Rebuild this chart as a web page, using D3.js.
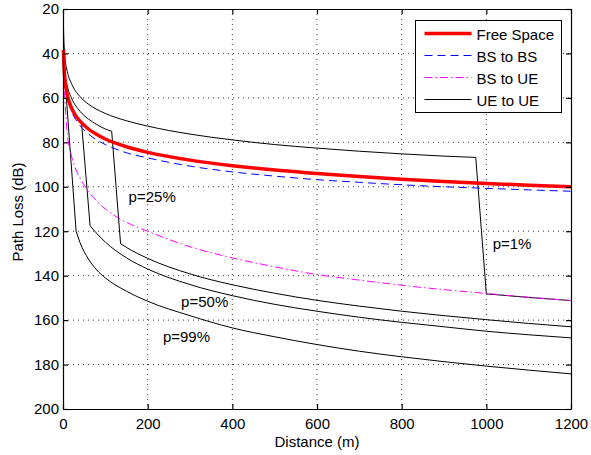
<!DOCTYPE html>

<head>
    <meta charset="utf-8">
    <title>Path loss vs distance</title>
    <style>
        body { margin: 0; background: #fff; }
        svg text { font-family: "Liberation Sans", Arial, Helvetica, sans-serif; fill: #000; }
    </style>
</head>

<body>

    <svg width="591" height="455"></svg>

    <script src="https://d3js.org/d3.v7.min.js"></script>

    <script>

        var distances = [1, 2, 5, 10, 20, 30, 40, 60, 80, 100, 150, 200, 300, 400, 500, 600, 700, 800, 900, 1000, 1100, 1200];
        var freeSpace = [38.5, 44.5, 52.5, 58.5, 64.5, 68, 70.5, 74, 76.5, 78.5, 82, 84.5, 88, 90.5, 92.5, 94, 95.4, 96.6, 97.6, 98.5, 99.3, 100];
        var bsToBs = [38.5, 44.5, 53, 59.5, 66, 69.7, 72.4, 76.2, 79, 81, 84.7, 87, 90.7, 93.3, 95.2, 96.8, 98, 99.1, 100, 100.7, 101.4, 102];
        var bsToUe = [43, 52, 62, 76, 86, 92, 96, 102, 106.5, 110, 116, 120, 127, 132, 136, 139.5, 142, 144.3, 146.3, 148, 149.7, 151.2];

        // UE to UE, one curve per percentile: [distance, loss] before and after the drop
        var ueP1Upper = [[1, 27], [2, 34], [5, 42.5], [10, 48], [20, 53.5], [40, 59.4], [60, 62.8], [100, 67], [150, 70.3], [200, 72.7],
            [300, 76.3], [400, 78.9], [500, 81], [600, 82.6], [700, 84], [800, 85.2], [900, 86.2], [975, 86.8]];
        var ueP1Lower = [[1000, 148.2], [1100, 149.8], [1200, 151.2]];

        var ueP25Upper = [[1, 33], [2, 40], [5, 49], [10, 54.5], [20, 60], [40, 66], [60, 69.5], [80, 72], [100, 74], [115, 75]];
        var ueP25Lower = [[136, 125.6], [150, 127.3], [200, 132.2], [300, 139.2], [400, 144.1], [500, 147.9], [600, 151.1], [700, 153.7],
            [800, 156], [900, 158], [1000, 159.8], [1100, 161.5], [1200, 163]];

        var ueP50Upper = [[1, 38.5], [5, 52.5], [10, 58.5], [20, 64.5], [30, 68], [44, 71.8]];
        var ueP50Lower = [[64, 117.5], [87.5, 122.6], [100, 124.9], [150, 132], [200, 137], [300, 144], [400, 149], [500, 152.9],
            [600, 156], [700, 158.7], [800, 161], [900, 163], [1000, 165], [1100, 166.6], [1200, 168]];

        var ueP99Upper = [[1, 42]];
        var ueP99Lower = [[31, 120], [40, 125], [60, 132.5], [80, 137.5], [100, 141], [150, 147], [200, 151.5], [300, 158], [400, 163.5],
            [500, 167.5], [600, 171], [700, 174], [800, 176.5], [900, 178.7], [1000, 180.7], [1100, 182.5], [1200, 184.2]];

        var xTicks = [0, 200, 400, 600, 800, 1000, 1200];
        var yTicks = [20, 40, 60, 80, 100, 120, 140, 160, 180, 200];

        var notes = [
            { text: "p=25%", d: 155, v: 106.7 },
            { text: "p=1%", d: 1015, v: 128 },
            { text: "p=50%", d: 279, v: 154 },
            { text: "p=99%", d: 236, v: 170 }
        ];

        var legendItems = ["Free Space", "BS to BS", "BS to UE", "UE to UE"];

        var svg = d3.select("svg"),
            margin = { top: 9, right: 20, bottom: 46, left: 63 },
            width = +svg.attr("width") - margin.left - margin.right,
            height = +svg.attr("height") - margin.top - margin.bottom;

        var x = d3.scaleLinear().domain([0, 1200]).range([0, width]),
            y = d3.scaleLinear().domain([20, 200]).range([0, height]);

        var g = svg.append("g")
            .attr("transform", "translate(" + margin.left + "," + margin.top + ")");

        // dotted grid
        g.selectAll(".gx")
            .data(xTicks.slice(1, -1))
            .enter().append("line")
            .attr("x1", function (d) { return x(d); })
            .attr("x2", function (d) { return x(d); })
            .attr("y1", 0)
            .attr("y2", height)
            .style("stroke", "#000")
            .style("stroke-width", 0.8)
            .style("stroke-dasharray", "1,4");

        g.selectAll(".gy")
            .data(yTicks.slice(1, -1))
            .enter().append("line")
            .attr("x1", 0)
            .attr("x2", width)
            .attr("y1", function (d) { return y(d); })
            .attr("y2", function (d) { return y(d); })
            .style("stroke", "#000")
            .style("stroke-width", 0.8)
            .style("stroke-dasharray", "1,4");

        var smooth = d3.line()
            .x(function (p) { return x(p[0]); })
            .y(function (p) { return y(p[1]); })
            .curve(d3.curveMonotoneX);

        var straight = d3.line()
            .x(function (p) { return x(p[0]); })
            .y(function (p) { return y(p[1]); });

        function pairs(values) {
            return distances.map(function (d, i) { return [d, values[i]]; });
        }

        // UE to UE curves: smooth parts joined by a straight drop
        var ueCurves = [
            [ueP1Upper, ueP1Lower],
            [ueP25Upper, ueP25Lower],
            [ueP50Upper, ueP50Lower],
            [ueP99Upper, ueP99Lower]
        ];

        ueCurves.forEach(function (c) {
            var up = c[0], low = c[1];
            var parts = [];
            if (up.length > 1) parts.push(smooth(up));
            parts.push(straight([up[up.length - 1], low[0]]));
            parts.push(smooth(low));
            parts.forEach(function (p) {
                g.append("path")
                    .attr("d", p)
                    .style("fill", "none")
                    .style("stroke", "#000")
                    .style("stroke-width", 1);
            });
        });

        var series = [
            { values: bsToUe, color: "#ff00ff", width: 1, dash: "8,3,1.5,3" },
            { values: bsToBs, color: "#0000ff", width: 1, dash: "8,5" },
            { values: freeSpace, color: "#ff0000", width: 3.5, dash: null }
        ];

        series.forEach(function (s) {
            g.append("path")
                .attr("d", smooth(pairs(s.values)))
                .style("fill", "none")
                .style("stroke", s.color)
                .style("stroke-width", s.width)
                .style("stroke-dasharray", s.dash);
        });

        // annotations
        g.selectAll(".note")
            .data(notes)
            .enter().append("text")
            .attr("x", function (d) { return x(d.d); })
            .attr("y", function (d) { return y(d.v); })
            .style("font-size", "15px")
            .text(function (d) { return d.text; });

        // axes with inward ticks on all four sides
        g.append("g")
            .attr("transform", "translate(0," + height + ")")
            .call(d3.axisBottom(x).tickValues(xTicks).tickSize(-5).tickSizeOuter(0).tickPadding(9).tickFormat(d3.format("d")));

        g.append("g")
            .call(d3.axisLeft(y).tickValues(yTicks).tickSize(-5).tickSizeOuter(0).tickPadding(4).tickFormat(d3.format("d")));

        g.append("g")
            .call(d3.axisTop(x).tickValues(xTicks).tickSize(-5).tickSizeOuter(0).tickFormat(""));

        g.append("g")
            .attr("transform", "translate(" + width + ",0)")
            .call(d3.axisRight(y).tickValues(yTicks).tickSize(-5).tickSizeOuter(0).tickFormat(""));

        g.selectAll(".domain, .tick line")
            .style("stroke", "#000")
            .style("stroke-width", 1.2);

        g.selectAll(".tick text")
            .style("font-size", "15px")
            .style("font-family", "'Liberation Sans', Arial, Helvetica, sans-serif")
            .style("fill", "#000");

        // axis titles
        svg.append("text")
            .attr("x", margin.left + width / 2)
            .attr("y", 447)
            .style("text-anchor", "middle")
            .style("font-size", "15px")
            .text("Distance (m)");

        svg.append("text")
            .attr("transform", "translate(23,212) rotate(-90)")
            .style("text-anchor", "middle")
            .style("font-size", "15px")
            .text("Path Loss (dB)");

        // legend
        var lg = svg.append("g").attr("transform", "translate(415.5,20.5)");

        lg.append("rect")
            .attr("width", 146)
            .attr("height", 92)
            .style("fill", "#fff")
            .style("stroke", "#000")
            .style("stroke-width", 1);

        var legendStyle = [
            { color: "#ff0000", width: 3.5, dash: null },
            { color: "#0000ff", width: 1, dash: "8,5" },
            { color: "#ff00ff", width: 1, dash: "8,3,1.5,3" },
            { color: "#000", width: 1, dash: null }
        ];

        var row = lg.selectAll(".row")
            .data(legendItems)
            .enter().append("g")
            .attr("transform", function (d, i) { return "translate(0," + (13 + i * 22) + ")"; });

        row.append("line")
            .attr("x1", 9)
            .attr("x2", 56)
            .style("stroke", function (d, i) { return legendStyle[i].color; })
            .style("stroke-width", function (d, i) { return legendStyle[i].width; })
            .style("stroke-dasharray", function (d, i) { return legendStyle[i].dash; });

        row.append("text")
            .attr("x", 61)
            .attr("y", 6)
            .style("font-size", "15px")
            .text(function (d) { return d; });

    </script>

</body>
